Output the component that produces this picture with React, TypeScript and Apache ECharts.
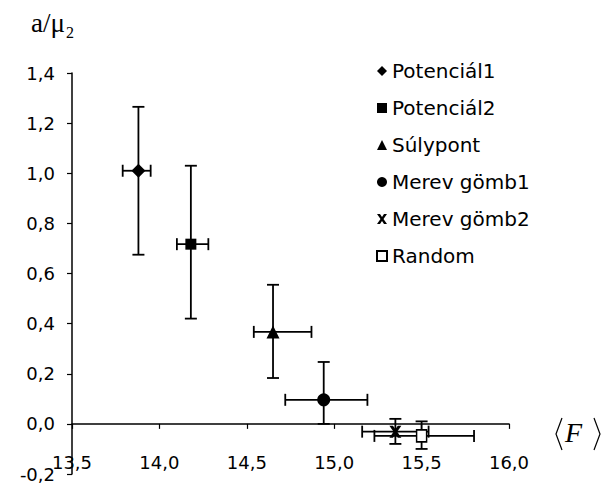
import React, { useEffect, useRef } from "react";
import * as echarts from "echarts";

const seriesNames = ["Potenciál1", "Potenciál2", "Súlypont", "Merev gömb1", "Merev gömb2", "Random"];
const xValues = [13.88, 14.18, 14.65, 14.94, 15.35, 15.5];
const yValues = [1.01, 0.717, 0.367, 0.096, -0.031, -0.048];
const xLow = [13.79, 14.1, 14.54, 14.72, 15.16, 15.23];
const xHigh = [13.95, 14.28, 14.87, 15.19, 15.54, 15.8];
const yLow = [0.675, 0.42, 0.183, 0.0, -0.08, -0.1];
const yHigh = [1.265, 1.03, 0.555, 0.247, 0.02, 0.01];
const xTicks = { min: 13.5, max: 16.0, interval: 0.5 };
const yTicks = { min: -0.2, max: 1.4, interval: 0.2 };

const XPATH = "path://M0,0 L3,0 L5,3 L7,0 L10,0 L6.5,5 L10,10 L7,10 L5,7 L3,10 L0,10 L3.5,5 Z";
const symbols = ["diamond", "rect", "triangle", "circle", XPATH, "rect"];
const symbolSizes: any[] = [14, 11, 13, 13, 12, [10, 12]];

const fmt = (v: number) => v.toFixed(1).replace(".", ",");

export default function App() {
  const ref = useRef<HTMLDivElement>(null);
  useEffect(() => {
    if (!ref.current) return;
    document.body.style.margin = "0";
    const chart = echarts.init(ref.current, null, { renderer: "svg" });
    const errData = xValues.map((x, i) => [x, yValues[i], xLow[i], xHigh[i], yLow[i], yHigh[i]]);
    const lineStyle = { stroke: "#000", lineWidth: 1.8 };
    const cap = 6;
    const scatterSeries = seriesNames.map((name, i) => ({
      name,
      type: "scatter",
      xAxisIndex: 0,
      yAxisIndex: 0,
      symbol: symbols[i],
      symbolSize: symbolSizes[i],
      z: 5,
      itemStyle:
        i === 5
          ? { color: "#fff", borderColor: "#000", borderWidth: 1.6, opacity: 1 }
          : { color: "#000", opacity: 1 },
      data: [[xValues[i], yValues[i]]],
    }));
    chart.setOption({
      animation: false,
      backgroundColor: "#fff",
      grid: { left: 72, right: 102, top: 73, bottom: 14, containLabel: false },
      legend: {
        orient: "vertical",
        left: 376,
        top: 61,
        padding: 0,
        itemWidth: 10,
        itemHeight: 10,
        itemGap: 17,
        selectedMode: false,
        textStyle: { fontFamily: "DejaVu Sans", fontSize: 20, color: "#000", lineHeight: 20 },
        data: seriesNames,
      },
      xAxis: [
        {
          type: "value",
          ...xTicks,
          axisLine: { show: true, onZero: true, lineStyle: { color: "#000", width: 1.5 } },
          axisTick: { show: true, length: 5, lineStyle: { color: "#000", width: 1.2 } },
          axisLabel: { show: false },
          splitLine: { show: false },
        },
        {
          type: "value",
          ...xTicks,
          position: "bottom",
          offset: -24,
          axisLine: { show: false, onZero: false },
          axisTick: { show: false },
          axisLabel: {
            show: true,
            margin: 3,
            formatter: fmt,
            fontFamily: "DejaVu Sans",
            fontSize: 18,
            color: "#000",
          },
          splitLine: { show: false },
        },
      ],
      yAxis: {
        type: "value",
        ...yTicks,
        axisLine: { show: true, lineStyle: { color: "#000", width: 1.5 } },
        axisTick: { show: true, length: 5, lineStyle: { color: "#000", width: 1.2 } },
        axisLabel: {
          margin: 17,
          formatter: fmt,
          fontFamily: "DejaVu Sans",
          fontSize: 18,
          color: "#000",
        },
        splitLine: { show: false },
      },
      graphic: [
        {
          type: "text",
          left: 31,
          top: 9,
          style: { text: "a/μ", font: '27px "Liberation Serif"', fill: "#000" },
        },
        {
          type: "text",
          left: 66,
          top: 24,
          style: { text: "2", font: '16px "Liberation Serif"', fill: "#000" },
        },
        {
          type: "text",
          left: 565,
          top: 418,
          style: { text: "F", font: 'italic 28px "Liberation Serif"', fill: "#000" },
        },
        {
          type: "polyline",
          shape: { points: [[562, 418], [556, 434], [562, 450]] },
          style: { stroke: "#000", lineWidth: 1.2, fill: "none" },
        },
        {
          type: "polyline",
          shape: { points: [[594, 418], [600, 434], [594, 450]] },
          style: { stroke: "#000", lineWidth: 1.2, fill: "none" },
        },
      ],
      series: [
        {
          type: "custom",
          name: "errors",
          xAxisIndex: 0,
          yAxisIndex: 0,
          z: 3,
          encode: { x: 0, y: 1 },
          data: errData,
          renderItem: (params: any, api: any) => {
            const x = api.value(0);
            const y = api.value(1);
            const pxl = api.coord([api.value(2), y]);
            const pxh = api.coord([api.value(3), y]);
            const pyl = api.coord([x, api.value(4)]);
            const pyh = api.coord([x, api.value(5)]);
            const ln = (x1: number, y1: number, x2: number, y2: number) => ({
              type: "line",
              shape: { x1, y1, x2, y2 },
              style: lineStyle,
            });
            return {
              type: "group",
              children: [
                ln(pyl[0], pyl[1], pyh[0], pyh[1]),
                ln(pyl[0] - cap, pyl[1], pyl[0] + cap, pyl[1]),
                ln(pyh[0] - cap, pyh[1], pyh[0] + cap, pyh[1]),
                ln(pxl[0], pxl[1], pxh[0], pxh[1]),
                ln(pxl[0], pxl[1] - cap, pxl[0], pxl[1] + cap),
                ln(pxh[0], pxh[1] - cap, pxh[0], pxh[1] + cap),
              ],
            };
          },
        },
        ...scatterSeries,
      ],
    });
    return () => chart.dispose();
  }, []);
  return <div ref={ref} style={{ width: 611, height: 488 }} />;
}
